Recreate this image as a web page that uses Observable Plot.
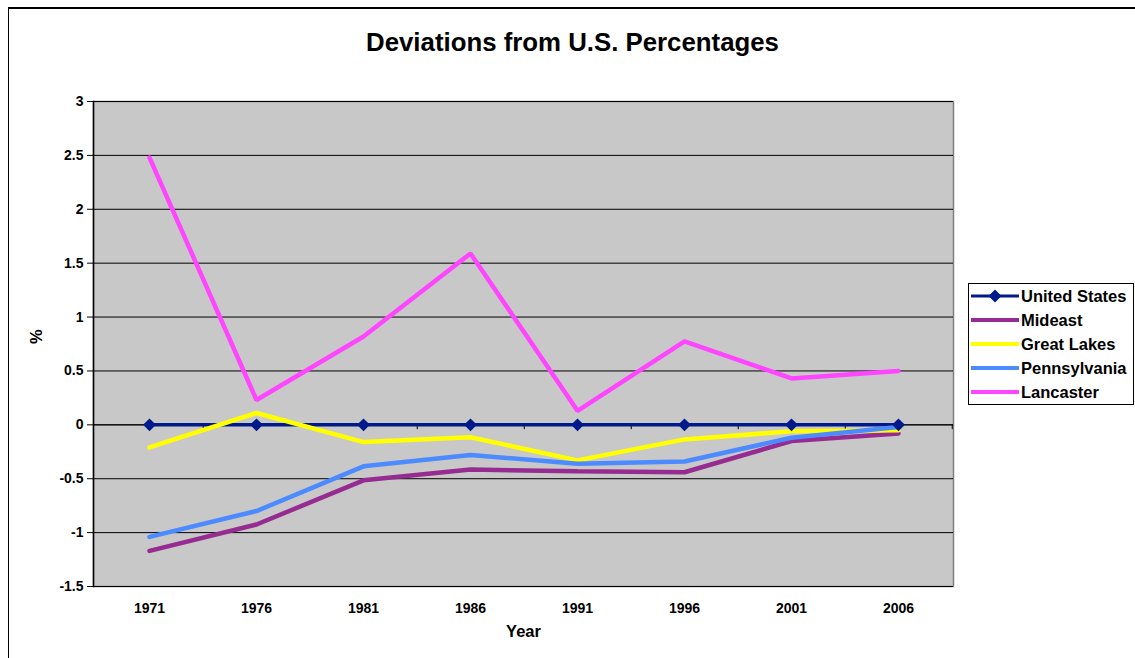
<!DOCTYPE html>
<html>
<head>
<meta charset="utf-8">
<script src="https://cdn.jsdelivr.net/npm/d3@7"></script>
<script src="https://cdn.jsdelivr.net/npm/@observablehq/plot@0.6"></script>
<style>
  body { margin: 0; background: #fff; font-family: "Liberation Sans", Arial, sans-serif; }
  #wrap { position: relative; width: 1135px; height: 658px; overflow: hidden; background: #fff; }
  #frame { position: absolute; left: 8px; top: 7px; width: 1200px; height: 700px; border-left: 1.5px solid #000; border-top: 2px solid #000; box-sizing: border-box; }
  #title { position: absolute; left: 0; top: 0; width: 1145px; height: 75px; line-height: 84px; text-align: center; font-weight: bold; font-size: 25.8px; color: #000; }
  #chart { position: absolute; left: 0; top: 75px; }
  #legend { position: absolute; left: 968px; top: 283px; width: 166px; height: 122px; border: 1px solid #000; box-sizing: border-box; background: #fff; padding-top: 0px; }
  .row { height: 24px; display: flex; align-items: center; font-weight: bold; font-size: 16.5px; color: #000; white-space: nowrap; }
  .row svg { margin-left: 2px; margin-right: 2px; }
  #chart svg g[aria-label*="axis"] text, #chart svg g[aria-label*="axis"] { font-size: 14px !important; font-weight: bold; }
</style>
</head>
<body>
<div id="wrap">
  <div id="frame"></div>
  <div id="title">Deviations from U.S. Percentages</div>
  <div id="chart"></div>
  <div id="legend"></div>
</div>
<script>
// ---- data ----
const years = ["1971", "1976", "1981", "1986", "1991", "1996", "2001", "2006"];
const seriesNames = ["United States", "Mideast", "Great Lakes", "Pennsylvania", "Lancaster"];
const seriesColors = ["#001a8c", "#962b91", "#ffff00", "#4b8bff", "#ff45ff"];
const unitedStates = [0, 0, 0, 0, 0, 0, 0, 0];
const mideast      = [-1.17, -0.925, -0.515, -0.415, -0.43, -0.44, -0.15, -0.08];
const greatLakes   = [-0.21, 0.11, -0.16, -0.115, -0.33, -0.135, -0.06, -0.05];
const pennsylvania = [-1.04, -0.80, -0.385, -0.28, -0.36, -0.34, -0.12, -0.02];
const lancaster    = [2.48, 0.23, 0.82, 1.59, 0.13, 0.775, 0.43, 0.50];
const yTicks = [-1.5, -1, -0.5, 0, 0.5, 1, 1.5, 2, 2.5, 3];

// ---- build table ----
const seriesValues = [unitedStates, mideast, greatLakes, pennsylvania, lancaster];
const rows = [];
seriesNames.forEach((s, si) => {
  years.forEach((y, yi) => rows.push({series: s, year: y, value: seriesValues[si][yi]}));
});
const usRows = rows.filter(d => d.series === "United States");
const otherRows = rows.filter(d => d.series !== "United States");

const W = 1135, H = 583, mL = 93, mR = 182, mT = 26, mB = 72;
const step = (W - mL - mR) / years.length;

const chart = Plot.plot({
  width: W,
  height: H,
  marginLeft: mL,
  marginRight: mR,
  marginTop: mT,
  marginBottom: mB,
  style: {background: "transparent", fontFamily: "'Liberation Sans', Arial, sans-serif", fontSize: "14px", color: "#000"},
  x: {type: "point", domain: years, padding: 0.5},
  y: {domain: [-1.5, 3]},
  color: {domain: seriesNames, range: seriesColors},
  marks: [
    Plot.frame({fill: "#c8c8c8", stroke: "#808080", strokeWidth: 1.5}),
    Plot.gridY(yTicks, {stroke: "#000", strokeOpacity: 1, strokeWidth: 1}),
    Plot.ruleY([0], {stroke: "#000", strokeWidth: 1}),
    Plot.ruleX(years, {x: d => d, y1: 0, y2: -0.045, dx: step / 2, stroke: "#000"}),
    Plot.frame({anchor: "left", stroke: "#000", strokeWidth: 1.5}),
    Plot.axisY(yTicks, {tickSize: 6, tickPadding: 4, fontSize: 14, fontWeight: "bold", tickFormat: d => String(d), label: null, stroke: "#000"}),
    Plot.axisX({tickSize: 0, tickPadding: 17, fontSize: 14, fontWeight: "bold", label: null}),
    Plot.text(["Year"], {frameAnchor: "bottom", dy: 50, fontSize: 16.5, fontWeight: "bold", fill: "#000"}),
    Plot.text(["%"], {frameAnchor: "left", dx: -57, rotate: -90, fontSize: 16.5, fontWeight: "bold", fill: "#000"}),
    Plot.line(usRows, {x: "year", y: "value", stroke: "series", strokeWidth: 3.5}),
    Plot.line(otherRows, {x: "year", y: "value", z: "series", stroke: "series", strokeWidth: 4.5, strokeLinejoin: "miter"}),
    Plot.dot(usRows, {x: "year", y: "value", symbol: "diamond2", r: 5.8, fill: "series", stroke: "none"})
  ]
});
// enlarge tick labels to match the reference
d3.select(chart).selectAll('g[aria-label*="axis"]').attr("font-size", 14).attr("font-weight", "bold")
  .selectAll("text").attr("font-size", 14);
document.getElementById("chart").appendChild(chart);

// ---- legend ----
const legend = document.getElementById("legend");
seriesNames.forEach((s, i) => {
  const row = document.createElement("div");
  row.className = "row";
  const sw = d3.create("svg").attr("width", 48).attr("height", 14);
  sw.append("line").attr("x1", 0).attr("x2", 48).attr("y1", 7).attr("y2", 7)
    .attr("stroke", seriesColors[i]).attr("stroke-width", i === 0 ? 3 : 4);
  if (i === 0) {
    sw.append("path").attr("d", d3.symbol(d3.symbolDiamond2, 108)()).attr("transform", "translate(24,7)").attr("fill", seriesColors[0]);
  }
  row.appendChild(sw.node());
  const t = document.createElement("span");
  t.textContent = s;
  row.appendChild(t);
  legend.appendChild(row);
});
</script>
</body>
</html>
